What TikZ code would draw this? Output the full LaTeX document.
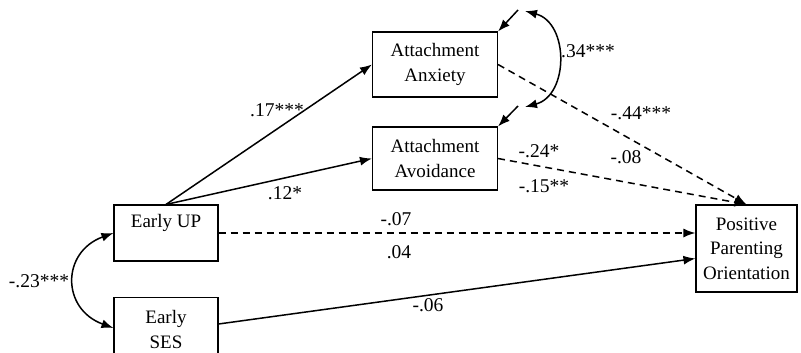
\documentclass[tikz,border=0pt]{standalone}
\usepackage{fontspec}
\setmainfont{Liberation Serif}
\usetikzlibrary{arrows.meta, positioning}

\begin{document}
\begin{tikzpicture}[x=1pt, y=-1pt, >={Latex[length=12pt,width=9pt]},
    var/.style={rectangle, draw, line width=1.1pt, align=center, inner sep=0pt, font=\fontsize{19}{24.5}\selectfont},
    coef/.style={font=\fontsize{19.5}{22}\selectfont, inner sep=1pt},
    path/.style={line width=1.5pt, ->},
    nspath/.style={line width=1.5pt, ->, dash pattern=on 7pt off 5pt}]

    \useasboundingbox (0,0) rectangle (801,353);

    % Variables
    \node[var, minimum width=125pt, minimum height=65pt] (anxiety) at (435,64.5) {Attachment\\ Anxiety};
    \node[var, minimum width=125pt, minimum height=63pt] (avoidance) at (435,158.5) {Attachment\\ Avoidance};
    \node[var, minimum width=104pt, minimum height=56pt] (earlyup) at (166,233) {Early UP\\ \mbox{}};
    \node[var, minimum width=104pt, minimum height=64pt, anchor=north] (earlyses) at (166,297) {Early\\ SES};
    \node[var, minimum width=101pt, minimum height=87pt] (ppo) at (746.5,248.5) {Positive\\ Parenting\\ Orientation};

    % Residual ends
    \coordinate (res1) at (518,10);
    \coordinate (res2) at (518,106);
    \coordinate (cov1) at (525,11);
    \coordinate (cov2) at (525,107);

    % Paths
    \draw[path] (earlyup.north) -- (anxiety.west);
    \draw[path] (earlyup.north) -- (avoidance.west);
    \draw[nspath] (earlyup.east) -- (earlyup.east -| ppo.west);
    \draw[path] (earlyses.east |- 0,324) -- ([yshift=-10pt]ppo.west);
    \draw[nspath] (anxiety.east) -- (ppo.north);
    \draw[nspath] (avoidance.east) -- (ppo.north);

    % Residuals and covariances
    \draw[path] (res1) -- (anxiety.north east);
    \draw[path] (res2) -- (avoidance.north east);
    \draw[line width=1.5pt, <->] (cov1) to[out=-15, in=15, looseness=1.22] (cov2);
    \draw[line width=1.5pt, <->] (earlyup.west) to[out=200, in=160, looseness=1.5] (earlyses.west |- 0,328);

    % Coefficients
    \node[coef] (c17) at (277,110) {.17***};
    \node[coef] (c12) at (285,193) {.12*};
    \node[coef] (c07) at (396,219) {-.07};
    \node[coef] (c04) at (399,252) {.04};
    \node[coef] (c06) at (428,305) {-.06};
    \node[coef] (c23) at (39,281) {-.23***};
    \node[coef, anchor=west] (c34) at (560,51) {.34***};
    \node[coef] (c44) at (641,113) {-.44***};
    \node[coef] (c08) at (626,157) {-.08};
    \node[coef] (c24) at (539,151) {-.24*};
    \node[coef] (c15) at (544,186) {-.15**};
\end{tikzpicture}
\end{document}
